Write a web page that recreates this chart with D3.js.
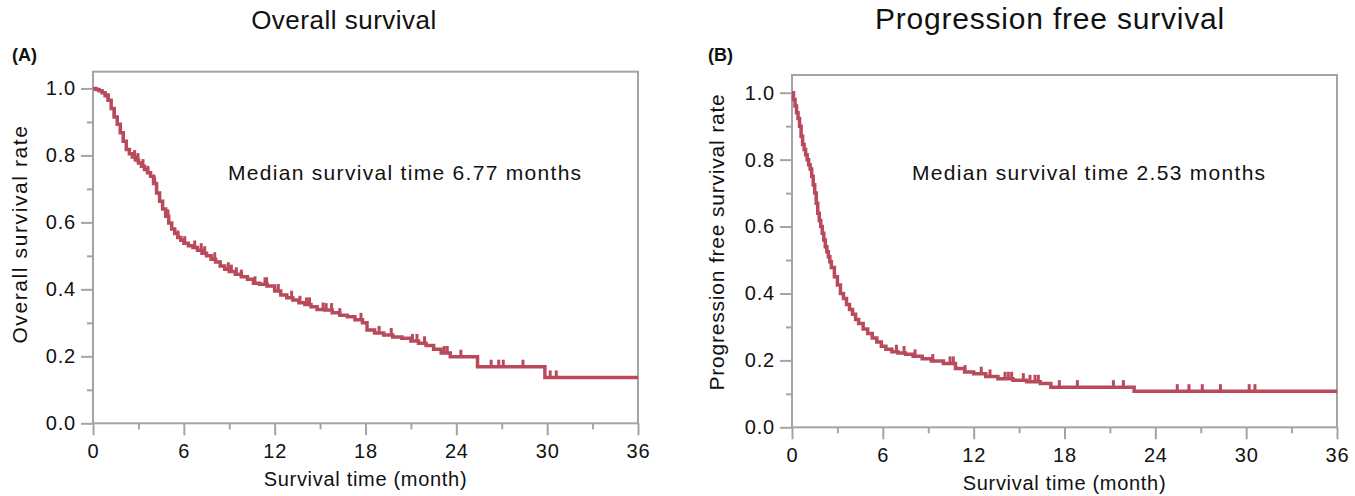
<!DOCTYPE html>
<html>
<head>
<meta charset="utf-8">
<script src="https://cdn.jsdelivr.net/npm/d3@7"></script>
<style>
  body { margin: 0; background: #fff; }
  text { font-family: "Liberation Sans", Arial, Helvetica, sans-serif; fill: #111; }
</style>
</head>
<body>
<script>
// Overall survival (KM step knots)
const osTime = [0, 0.2, 0.4, 0.6, 0.8, 1.0, 1.2, 1.4, 1.6, 1.8, 2.0, 2.2, 2.4, 2.6, 2.8, 3.0, 3.2, 3.4, 3.6, 3.8,
  4.0, 4.2, 4.4, 4.6, 4.8, 5.0, 5.2, 5.4, 5.6, 5.8, 6.0, 6.3, 6.6, 6.9, 7.2, 7.5, 7.8, 8.1, 8.4, 8.7,
  9.0, 9.4, 9.8, 10.2, 10.6, 11.0, 11.5, 12.0, 12.4, 12.8, 13.2, 13.6, 14.0, 14.4, 14.8, 15.3, 15.8, 16.3, 16.8, 17.3,
  17.8, 18.1, 18.6, 19.2, 19.8, 20.4, 21.0, 21.5, 22.0, 22.5, 23.0, 23.6, 25.4, 29.85, 36];
const osSurv = [1.0, 0.997, 0.993, 0.987, 0.978, 0.965, 0.94, 0.915, 0.893, 0.868, 0.842, 0.818, 0.805, 0.795, 0.786, 0.777, 0.768, 0.758, 0.748, 0.738,
  0.716, 0.688, 0.663, 0.64, 0.618, 0.598, 0.58, 0.567, 0.555, 0.547, 0.538, 0.53, 0.525, 0.517, 0.508, 0.5, 0.49, 0.482, 0.47, 0.46,
  0.453, 0.445, 0.438, 0.43, 0.418, 0.415, 0.41, 0.395, 0.383, 0.375, 0.368, 0.36, 0.355, 0.348, 0.34, 0.338, 0.33, 0.323, 0.318, 0.309,
  0.30, 0.279, 0.27, 0.264, 0.258, 0.254, 0.246, 0.239, 0.232, 0.221, 0.21, 0.199, 0.169, 0.137, 0.137];
const osCensor = [1.0, 1.4, 2.0, 2.75, 2.97, 3.3, 3.63, 4.07, 4.95, 5.61, 6.06, 6.72, 7.15, 7.38, 8.04, 8.94, 9.14, 9.47, 9.8,
  10.7, 11.36, 11.47, 12.24, 13.12, 13.67, 14.1, 14.3, 15.2, 15.4, 15.76, 16.3, 17.7, 18.9, 19.7, 21.1, 21.4, 21.9,
  23.2, 23.4, 24.3, 26.3, 26.8, 27.1, 28.4, 30.2, 30.6];

// Progression free survival
const pfsTime = [0, 0.1, 0.2, 0.3, 0.4, 0.5, 0.6, 0.7, 0.8, 0.9, 1.0, 1.1, 1.2, 1.3, 1.4, 1.5, 1.6, 1.7, 1.8, 1.9,
  2.0, 2.1, 2.2, 2.3, 2.4, 2.5, 2.6, 2.8, 3.0, 3.2, 3.4, 3.6, 3.8, 4.0, 4.2, 4.4, 4.7, 5.0, 5.3, 5.6,
  5.9, 6.2, 6.6, 7.0, 7.5, 8.0, 8.6, 9.2, 10.0, 10.8, 11.4, 12.0, 12.8, 13.6, 14.6, 15.5, 16.4, 17.1, 22.6, 36];
const pfsSurv = [1.0, 0.98, 0.96, 0.94, 0.923, 0.9, 0.87, 0.845, 0.83, 0.815, 0.8, 0.785, 0.772, 0.75, 0.725, 0.7, 0.67, 0.64, 0.618, 0.6,
  0.58, 0.56, 0.54, 0.525, 0.51, 0.495, 0.478, 0.45, 0.425, 0.4, 0.385, 0.367, 0.352, 0.338, 0.322, 0.31, 0.294, 0.28, 0.267, 0.255,
  0.242, 0.233, 0.226, 0.222, 0.218, 0.212, 0.205, 0.198, 0.191, 0.176, 0.165, 0.16, 0.152, 0.145, 0.141, 0.136, 0.131, 0.12, 0.108, 0.108];
const pfsCensor = [6.9, 7.4, 8.13, 9.3, 10.44, 10.66, 11.43, 12.5, 13.08, 14.07, 14.29, 14.51, 15.28, 15.72, 16.05, 16.27,
  17.66, 18.85, 21.23, 21.89, 25.45, 26.22, 27.1, 28.3, 30.2, 30.58];

const xMajor = [0, 6, 12, 18, 24, 30, 36];
const xMinor = [3, 9, 15, 21, 27, 33];
const yMajor = [0, 0.2, 0.4, 0.6, 0.8, 1.0];
const yMinor = [0.1, 0.3, 0.5, 0.7, 0.9];

const lineColor = "#b84a5c";
const frameColor = "#a4a4a4";

const svg = d3.select("body").append("svg")
  .attr("width", 1355)
  .attr("height", 496);

function panel(p) {
  const x = d3.scaleLinear().domain([0, 36]).range([p.left, p.right]);
  const y = d3.scaleLinear().domain([0, p.yMax]).range([p.bottom, p.top]);
  const g = svg.append("g");

  // minor + major ticks
  const axes = [
    [d3.axisBottom(x).tickValues(xMinor).tickSize(6).tickFormat(""), `translate(0,${p.bottom})`],
    [d3.axisBottom(x).tickValues(xMajor).tickSize(12).tickPadding(9).tickFormat(d3.format("d")), `translate(0,${p.bottom})`],
    [d3.axisLeft(y).tickValues(yMinor).tickSize(6).tickFormat(""), `translate(${p.left},0)`],
    [d3.axisLeft(y).tickValues(yMajor).tickSize(12).tickPadding(5).tickFormat(d3.format(".1f")), `translate(${p.left},0)`]
  ];
  axes.forEach(([ax, tr]) => {
    const a = g.append("g").attr("transform", tr).call(ax);
    a.select(".domain").remove();
    a.selectAll("line").attr("stroke", frameColor).attr("stroke-width", 2);
    a.selectAll("text").attr("font-size", 20).style("letter-spacing", "0.8px")
      .style("font-family", "Liberation Sans, Arial, sans-serif").attr("fill", "#111");
  });

  // frame
  g.append("rect")
    .attr("x", p.left).attr("y", p.top)
    .attr("width", p.right - p.left).attr("height", p.bottom - p.top)
    .attr("fill", "none").attr("stroke", frameColor).attr("stroke-width", 2);

  // survival curve
  const pts = p.time.map((t, i) => [t, p.surv[i]]);
  g.append("path")
    .datum(pts)
    .attr("fill", "none")
    .attr("stroke", lineColor)
    .attr("stroke-width", 3.5)
    .attr("d", d3.line().x(d => x(d[0])).y(d => y(d[1])).curve(d3.curveStepAfter));

  // censor marks
  const bis = d3.bisector(d => d).right;
  g.selectAll(".cens")
    .data(p.censor)
    .enter()
    .append("line")
    .attr("class", "cens")
    .attr("x1", d => x(d)).attr("x2", d => x(d))
    .attr("y1", d => y(p.surv[bis(p.time, d) - 1]) + 1)
    .attr("y2", d => y(p.surv[bis(p.time, d) - 1]) - 7)
    .attr("stroke", lineColor)
    .attr("stroke-width", 3);

  // texts
  svg.append("text").attr("x", p.titleX).attr("y", 29)
    .attr("text-anchor", "middle").attr("font-size", p.titleSize)
    .style("letter-spacing", p.titleLs).text(p.title);
  svg.append("text").attr("x", p.tagX).attr("y", 61)
    .attr("font-size", 18).attr("font-weight", "bold").text(p.tag);
  svg.append("text").attr("x", p.noteX).attr("y", 180)
    .attr("font-size", 21).style("letter-spacing", "1.3px").text(p.note);
  svg.append("text").attr("x", (p.left + p.right) / 2).attr("y", p.bottom + 63)
    .attr("text-anchor", "middle").attr("font-size", 20).style("letter-spacing", "0.7px")
    .text("Survival time (month)");
  svg.append("text")
    .attr("transform", `translate(${p.yLabX},${p.yLabY}) rotate(-90)`)
    .attr("text-anchor", "middle").attr("font-size", 21).style("letter-spacing", p.yLabLs).text(p.yLabel);
}

panel({
  left: 93, right: 638, top: 71.7, bottom: 423.3, yMax: 1.05,
  time: osTime, surv: osSurv, censor: osCensor,
  title: "Overall survival", titleX: 344, titleSize: 26, titleLs: "0.5px",
  tag: "(A)", tagX: 12,
  note: "Median survival time 6.77 months", noteX: 228,
  yLabel: "Overall survival rate", yLabX: 27, yLabY: 234, yLabLs: "1.6px"
});

panel({
  left: 792, right: 1337, top: 75, bottom: 427.3, yMax: 1.053,
  time: pfsTime, surv: pfsSurv, censor: pfsCensor,
  title: "Progression free survival", titleX: 1050, titleSize: 30, titleLs: "0.8px",
  tag: "(B)", tagX: 708,
  note: "Median survival time 2.53 months", noteX: 912,
  yLabel: "Progression free survival rate", yLabX: 724, yLabY: 242, yLabLs: "0.8px"
});
</script>
</body>
</html>
